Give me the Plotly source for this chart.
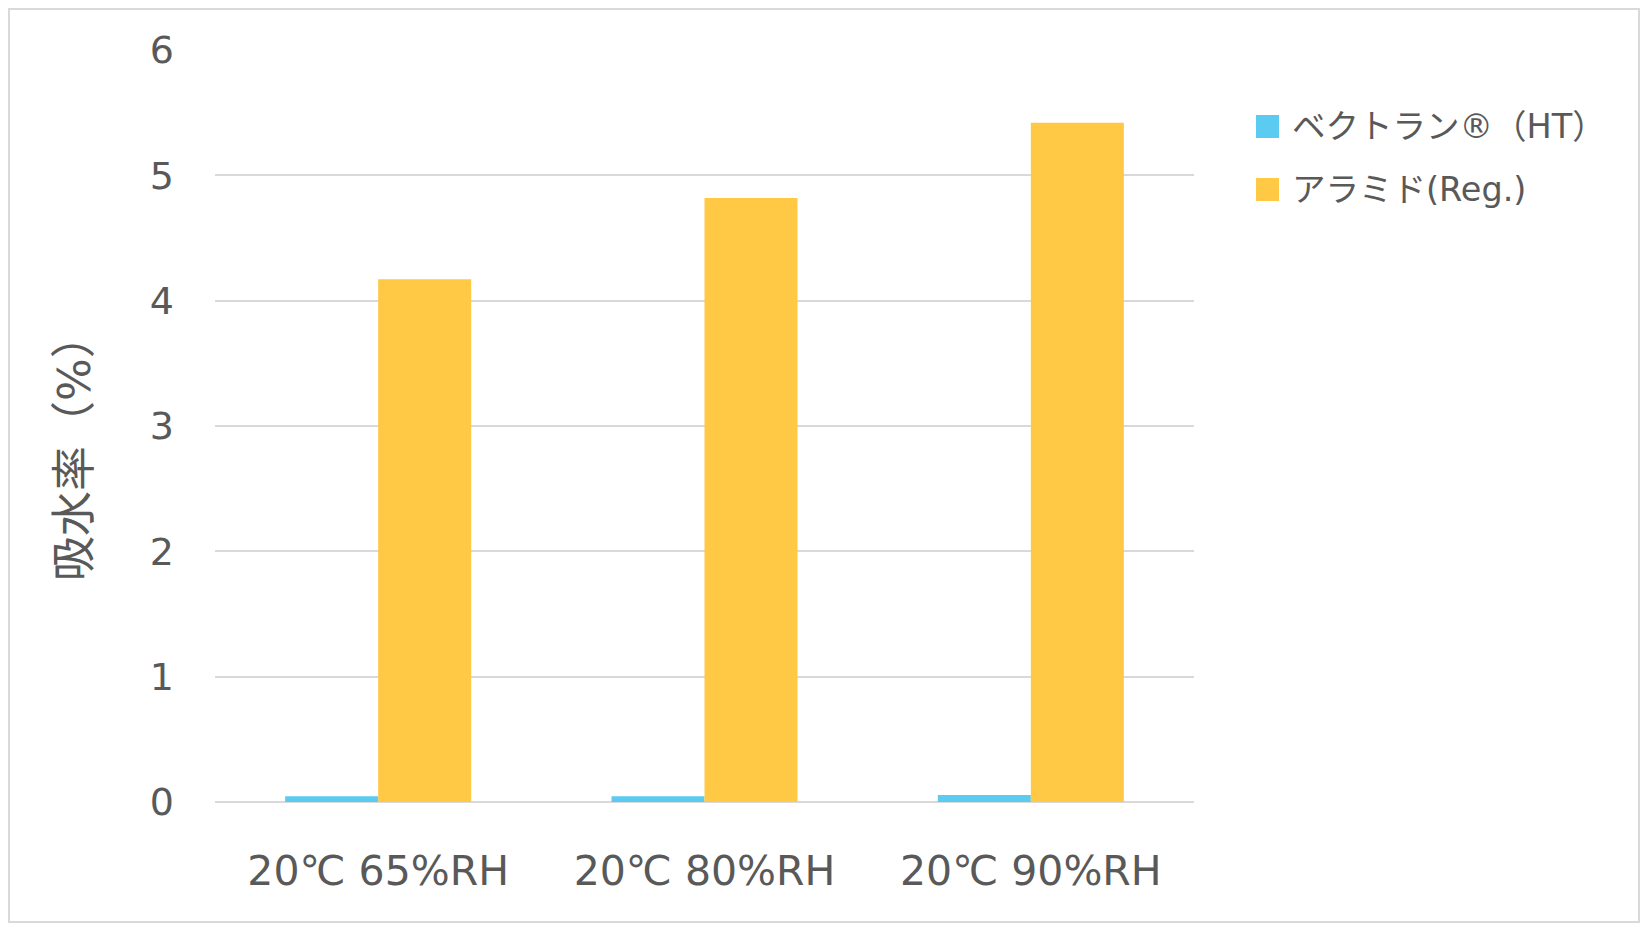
import plotly.graph_objects as go

categories = ["20℃ 65%RH", "20℃ 80%RH", "20℃ 90%RH"]
series_names = ["ベクトラン®（HT）", "アラミド(Reg.)"]
vectran = [0.045, 0.045, 0.055]
aramid = [4.17, 4.82, 5.42]
colors = ["#5BCBF2", "#FFC845"]
y_ticks = [0, 1, 2, 3, 4, 5, 6]
y_title = "吸水率（%）"

FONT = "DejaVu Sans, Noto Sans CJK JP"
TXT = "#595959"

# page has an 8px body margin; compensate so the plot area lands where the reference has it
OFF = 8
W, H = 1648, 931
L, R, T, B = 215 - OFF, 454 + OFF, 50 - OFF, 129 + OFF
pw = W - L - R
ph = H - T - B


def px(page_x):
    return (page_x - OFF - L) / pw


def py(page_y):
    return (H - B - (page_y - OFF)) / ph


fig = go.Figure()
for name, vals, c in zip(series_names, [vectran, aramid], colors):
    fig.add_trace(go.Bar(x=categories, y=vals, name=name, showlegend=False,
                         marker=dict(color=c, line=dict(width=0))))

# manual legend (larger swatches like the reference)
shapes = []
annotations = []
leg_y = [126.5, 189.5]
for name, c, yc in zip(series_names, colors, leg_y):
    shapes.append(dict(type="rect", xref="paper", yref="paper",
                       x0=px(1256), x1=px(1279), y0=py(yc + 11.5), y1=py(yc - 11.5),
                       fillcolor=c, line=dict(width=0)))
    annotations.append(dict(text=name, xref="paper", yref="paper", x=px(1290), y=py(yc),
                            xanchor="left", yanchor="middle", showarrow=False,
                            font=dict(size=33.5, color=TXT, family=FONT)))

# y-axis title
annotations.append(dict(text=y_title, xref="paper", yref="paper", x=px(74), y=py(447),
                        xanchor="center", yanchor="middle", textangle=-90, showarrow=False,
                        font=dict(size=45, color=TXT, family=FONT)))

shapes.append(dict(type="rect", xref="paper", yref="paper",
                   x0=-(L - 1) / pw, x1=1 + (R - 2 * OFF - 1) / pw,
                   y0=-(B - 2 * OFF - 1) / ph, y1=1 + (T - 1) / ph,
                   line=dict(color="#D9D9D9", width=2), fillcolor="rgba(0,0,0,0)", layer="below"))

fig.update_layout(
    width=W, height=H,
    margin=dict(l=L, r=R, t=T, b=B, autoexpand=False),
    paper_bgcolor="white", plot_bgcolor="white",
    barmode="group", bargap=0.43, bargroupgap=0,
    font=dict(family=FONT, color=TXT, size=38),
    showlegend=False,
    xaxis=dict(showgrid=False, showline=False, ticks="", tickfont=dict(size=41, color=TXT),
               ticklabelstandoff=41),
    yaxis=dict(range=[0, 6], tickvals=y_ticks, showgrid=True, gridcolor="#D9D9D9", gridwidth=2,
               zeroline=True, zerolinecolor="#D9D9D9", zerolinewidth=2, showline=False,
               ticks="", tickfont=dict(size=38, color=TXT), ticklabelstandoff=40),
    shapes=shapes,
    annotations=annotations,
)

fig.write_html("out.html")
